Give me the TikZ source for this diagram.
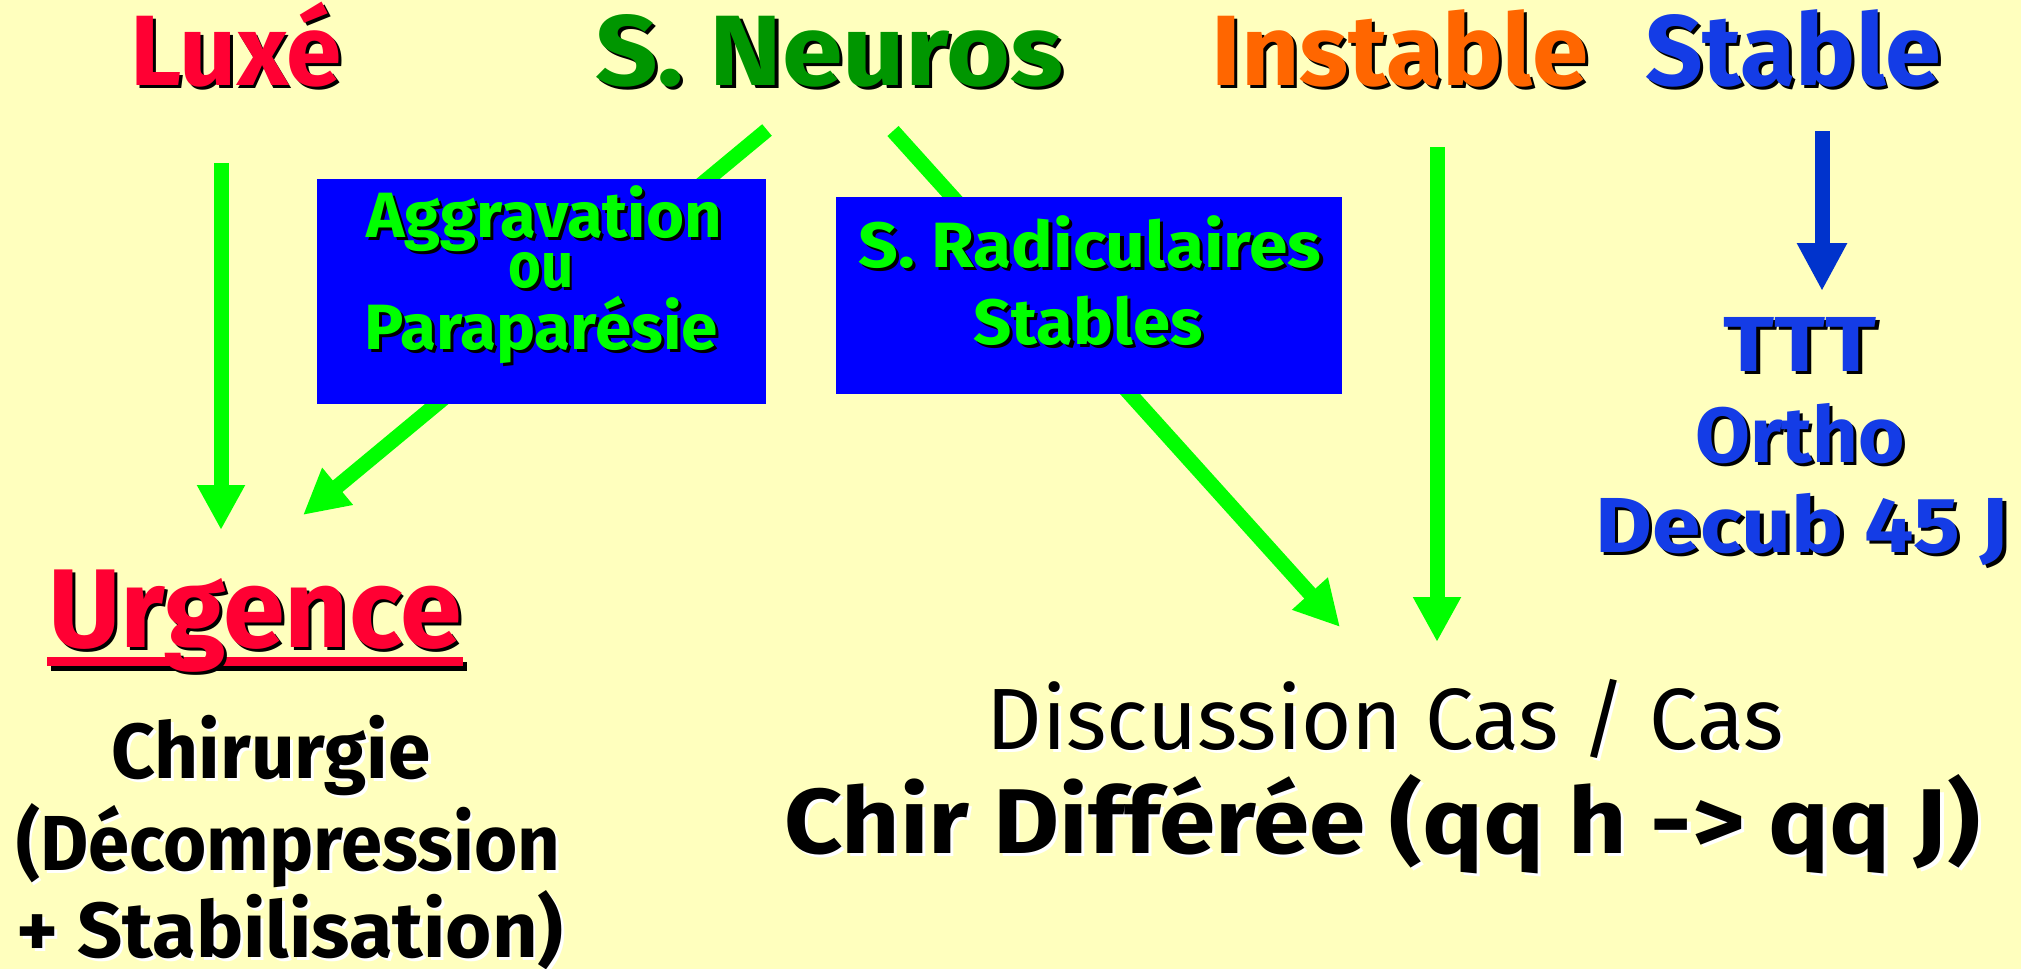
\documentclass[tikz,border=0pt]{standalone}
\usepackage{fontspec}
\setmainfont{Fira Sans}
\usepackage{graphicx}
\usetikzlibrary{arrows.meta}
\definecolor{bg}{RGB}{255,255,190}
\definecolor{lred}{RGB}{255,0,51}
\definecolor{dgreen}{RGB}{0,150,0}
\definecolor{lorange}{RGB}{255,102,0}
\definecolor{sblue}{RGB}{20,60,230}
\definecolor{agreen}{RGB}{0,255,0}
\definecolor{ablue}{RGB}{0,51,204}
\definecolor{bblue}{RGB}{0,0,255}
\newdimen\fwd
\newcommand\fw[2]{\setbox0=\hbox{#2}\fwd=\wd0\relax\scalebox{\fpeval{#1/\fwd}}[1]{\box0}}
\newcommand\shd[2]{\leavevmode\rlap{\kern3pt\raisebox{-3pt}{\color{#1}#2}}#2}
\tikzset{
  lbl/.style={anchor=base, inner sep=0pt, outer sep=0pt},
  toptxt/.style={lbl, font=\bfseries\fontsize{100}{100}\selectfont},
  boxtxt/.style={lbl, text=agreen, font=\bfseries\fontsize{64}{64}\selectfont},
  sidetxt/.style={lbl, text=sblue, font=\bfseries\fontsize{78}{78}\selectfont},
  urgtxt/.style={lbl, text=lred, font=\bfseries\fontsize{112}{112}\selectfont},
  chirtxt/.style={lbl, text=black, font=\bfseries\fontsize{78}{78}\selectfont},
  disctxt/.style={lbl, text=black, font=\fontsize{87}{87}\selectfont},
  difftxt/.style={lbl, text=black, font=\bfseries\fontsize{92}{92}\selectfont},
  bbox/.style={fill=bblue, draw=none, inner sep=0pt, outer sep=0pt},
  garrow/.style={draw=agreen, line width=15pt, -{Triangle[length=45pt,width=45pt]}},
  barrow/.style={draw=ablue, line width=15pt, -{Triangle[length=48pt,width=47pt]}},
}
\begin{document}
\begin{tikzpicture}[x=1pt,y=-1pt]
\fill[bg] (0,0) rectangle (2021,969);
\useasboundingbox (0,0) rectangle (2021,969);
% arrows
\coordinate (a1s) at (221,163); \coordinate (a1e) at (221,530);
\coordinate (a2s) at (767,130); \coordinate (a2e) at (303,515);
\coordinate (a3s) at (893,131); \coordinate (a3e) at (1340,627);
\coordinate (a4s) at (1437,147); \coordinate (a4e) at (1437,642);
\coordinate (a5s) at (1822,131); \coordinate (a5e) at (1822,291);
\draw[garrow] (a1s) -- (a1e);
\draw[garrow] (a2s) -- (a2e);
\draw[garrow] (a3s) -- (a3e);
\draw[garrow] (a4s) -- (a4e);
\draw[barrow] (a5s) -- (a5e);
% boxes
\node[bbox, minimum width=449pt, minimum height=225pt] (agg) at (541.5,291.5) {};
\node[bbox, minimum width=506pt, minimum height=197pt] (rad) at (1089,295.5) {};
% top row
\node[toptxt, text=lred] (luxe) at (236,85) {\fw{212}{\shd{black}{Luxé}}};
\node[toptxt, text=dgreen] (neuros) at (829,85) {\fw{468}{\shd{black}{S. Neuros}}};
\node[toptxt, text=lorange] (instable) at (1400,85) {\fw{377}{\shd{black}{Instable}}};
\node[toptxt, text=sblue] (stable) at (1793,85) {\fw{296}{\shd{black}{Stable}}};
% box texts
\node[boxtxt] (agg1) at (544,237) {\fw{356}{\shd{black}{Aggravation}}};
\node[boxtxt] (agg2) at (541,287) {\fw{65}{\shd{black}{ou}}};
\node[boxtxt] (agg3) at (541,349) {\fw{354}{\shd{black}{Paraparésie}}};
\node[boxtxt] (rad1) at (1090,267) {\fw{463}{\shd{black}{S. Radiculaires}}};
\node[boxtxt] (rad2) at (1088,344) {\fw{229}{\shd{black}{Stables}}};
% right side
\node[sidetxt] (ttt) at (1800,371) {\fw{153}{\shd{black}{TTT}}};
\node[sidetxt] (ortho) at (1800,462) {\fw{210}{\shd{black}{Ortho}}};
\node[sidetxt] (decub) at (1802,552) {\fw{413}{\shd{black}{Decub 45 J}}};
% urgence
\fill[black] (51,662) rectangle (467,671);
\fill[lred] (47,657) rectangle (463,666);
\node[urgtxt] (urg) at (255,647) {\fw{413}{\shd{black}{Urgence}}};
\node[chirtxt] (chir1) at (271,778) {\fw{319}{\shd{white}{Chirurgie}}};
\node[chirtxt] (chir2) at (288,870) {\fw{544}{\shd{white}{(Décompression}}};
\node[chirtxt] (chir3) at (290,957) {\fw{547}{\shd{white}{+ Stabilisation)}}};
% discussion
\node[disctxt] (disc) at (1385,749) {\fw{797}{\shd{white}{Discussion Cas / Cas}}};
\node[difftxt] (diff) at (1382,853) {\fw{1196}{\shd{white}{Chir Différée (qq h -> qq J)}}};
\end{tikzpicture}
\end{document}
